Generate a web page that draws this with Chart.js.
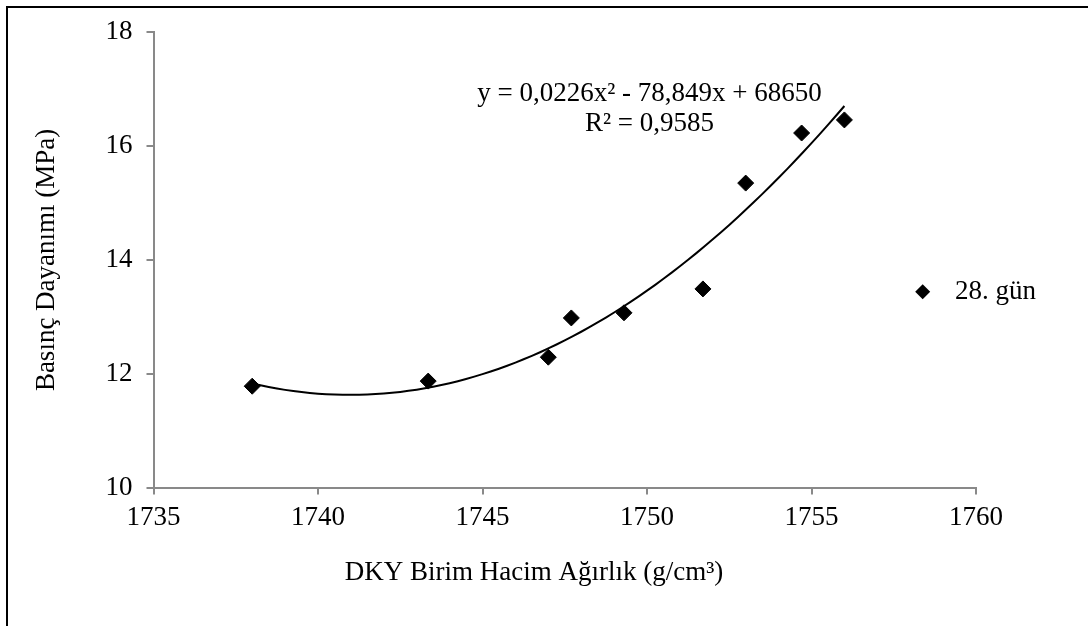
<!DOCTYPE html>
<html>
<head>
<meta charset="utf-8">
<script src="https://cdn.jsdelivr.net/npm/chart.js@4.4.0/dist/chart.umd.min.js"></script>
<style>
    body { margin: 0; background: #fff; }
    #wrap { position: relative; width: 1088px; height: 626px; }
    #frame {
        position: absolute; left: 6px; top: 6px; right: 0; bottom: 0;
        border-top: 2px solid #000; border-left: 2px solid #000;
        pointer-events: none;
    }
</style>
</head>
<body>
<div id="wrap">
    <canvas id="grafico"></canvas>
    <div id="frame"></div>
</div>
<script>
// datos (28. gun)
const densidad = [1738, 1743.35, 1747.0, 1747.7, 1749.3, 1751.7, 1753.0, 1754.7, 1756.0];
const resistencia = [11.78, 11.87, 12.29, 12.98, 13.07, 13.49, 15.35, 16.23, 16.46];
const serieNombre = '28. gün';
const ecuacion = ['y = 0,0226x² - 78,849x + 68650', 'R² = 0,9585'];
const xTicks = [1735, 1740, 1745, 1750, 1755, 1760];
const yTicks = [10, 12, 14, 16, 18];

const FUENTE = 'Liberation Serif, Times New Roman, serif';
const TAM = 27;
const GRIS = '#898989';

// ajuste polinomico de 2do grado (minimos cuadrados), como la linea de tendencia de Excel
function ajusteCuadratico(xs, ys) {
    const m = xs.reduce((a, b) => a + b, 0) / xs.length;
    const s = [0, 0, 0, 0, 0], t = [0, 0, 0];
    xs.forEach((x, i) => {
        const u = x - m;
        for (let k = 0; k < 5; k++) s[k] += Math.pow(u, k);
        for (let k = 0; k < 3; k++) t[k] += ys[i] * Math.pow(u, k);
    });
    const A = [[s[0], s[1], s[2], t[0]], [s[1], s[2], s[3], t[1]], [s[2], s[3], s[4], t[2]]];
    for (let i = 0; i < 3; i++) {
        for (let j = i + 1; j < 3; j++) {
            const f = A[j][i] / A[i][i];
            for (let k = i; k < 4; k++) A[j][k] -= f * A[i][k];
        }
    }
    const c = [0, 0, 0];
    for (let i = 2; i >= 0; i--) {
        let v = A[i][3];
        for (let k = i + 1; k < 3; k++) v -= A[i][k] * c[k];
        c[i] = v / A[i][i];
    }
    return x => c[0] + c[1] * (x - m) + c[2] * (x - m) * (x - m);
}

const f = ajusteCuadratico(densidad, resistencia);
const tendencia = [];
const xMin = Math.min(...densidad), xMax = Math.max(...densidad);
for (let x = xMin; x <= xMax + 1e-9; x += 0.25) tendencia.push({ x: x, y: f(x) });

const puntos = densidad.map((x, i) => ({ x: x, y: resistencia[i] }));

// textos: ecuacion, titulo eje x, leyenda
const textosPlugin = {
    id: 'textos',
    afterDraw(chart) {
        const { ctx, chartArea } = chart;
        ctx.save();
        ctx.fillStyle = '#000';
        ctx.font = `${TAM}px ${FUENTE}`;
        ctx.textAlign = 'center';
        ctx.textBaseline = 'alphabetic';
        // ecuacion de la tendencia
        ctx.fillText(ecuacion[0], chartArea.left + 496, chartArea.top + 68.5);
        ctx.fillText(ecuacion[1], chartArea.left + 496, chartArea.top + 98.5);
        // titulo eje x
        ctx.fillText('DKY Birim Hacim Ağırlık (g/cm³)', 534, 580);
        // leyenda
        const lx = 922.7, ly = 291.7, r = 7.5;
        ctx.beginPath();
        ctx.moveTo(lx - r, ly);
        ctx.lineTo(lx, ly - r);
        ctx.lineTo(lx + r, ly);
        ctx.lineTo(lx, ly + r);
        ctx.closePath();
        ctx.fill();
        ctx.textAlign = 'left';
        ctx.textBaseline = 'middle';
        ctx.fillText(serieNombre, 955, ly);
        ctx.restore();
    }
};

const $CANVAS = document.getElementById('grafico');
$CANVAS.width = 1088;
$CANVAS.height = 626;

new Chart($CANVAS, {
    type: 'scatter',
    data: {
        datasets: [{
            label: serieNombre,
            data: puntos,
            pointStyle: 'rectRot',
            pointRadius: 8,
            pointHoverRadius: 8,
            backgroundColor: '#000',
            borderColor: '#000',
            borderWidth: 1,
            showLine: false,
        }, {
            label: 'tendencia',
            type: 'line',
            data: tendencia,
            borderColor: '#000',
            borderWidth: 2,
            pointRadius: 0,
            tension: 0,
            fill: false,
        }]
    },
    options: {
        responsive: false,
        animation: false,
        layout: { padding: { top: 32.3, right: 112, bottom: 0, left: 0 } },
        plugins: {
            legend: { display: false },
            tooltip: { enabled: false },
        },
        scales: {
            x: {
                type: 'linear',
                min: 1735,
                max: 1760,
                afterFit: s => { s.height = 138.5; },
                afterBuildTicks: s => { s.ticks = xTicks.map(v => ({ value: v })); },
                ticks: {
                    color: '#000',
                    font: { family: FUENTE, size: TAM },
                    padding: 7,
                    maxRotation: 0,
                    callback: v => String(v),
                },
                grid: { drawOnChartArea: false, drawTicks: true, tickLength: 7, color: GRIS, lineWidth: 2 },
                border: { color: GRIS, width: 2 },
            },
            y: {
                type: 'linear',
                min: 10,
                max: 18,
                afterFit: s => { s.width = 153.5; },
                afterBuildTicks: s => { s.ticks = yTicks.map(v => ({ value: v })); },
                ticks: {
                    color: '#000',
                    font: { family: FUENTE, size: TAM },
                    padding: 14,
                    callback: v => String(v),
                },
                grid: { drawOnChartArea: false, drawTicks: true, tickLength: 7, color: GRIS, lineWidth: 2 },
                border: { color: GRIS, width: 2 },
                title: {
                    display: true,
                    text: 'Basınç Dayanımı (MPa)',
                    color: '#000',
                    font: { family: FUENTE, size: TAM },
                    padding: { top: 31, bottom: 0 },
                },
            }
        }
    },
    plugins: [textosPlugin]
});
</script>
</body>
</html>
